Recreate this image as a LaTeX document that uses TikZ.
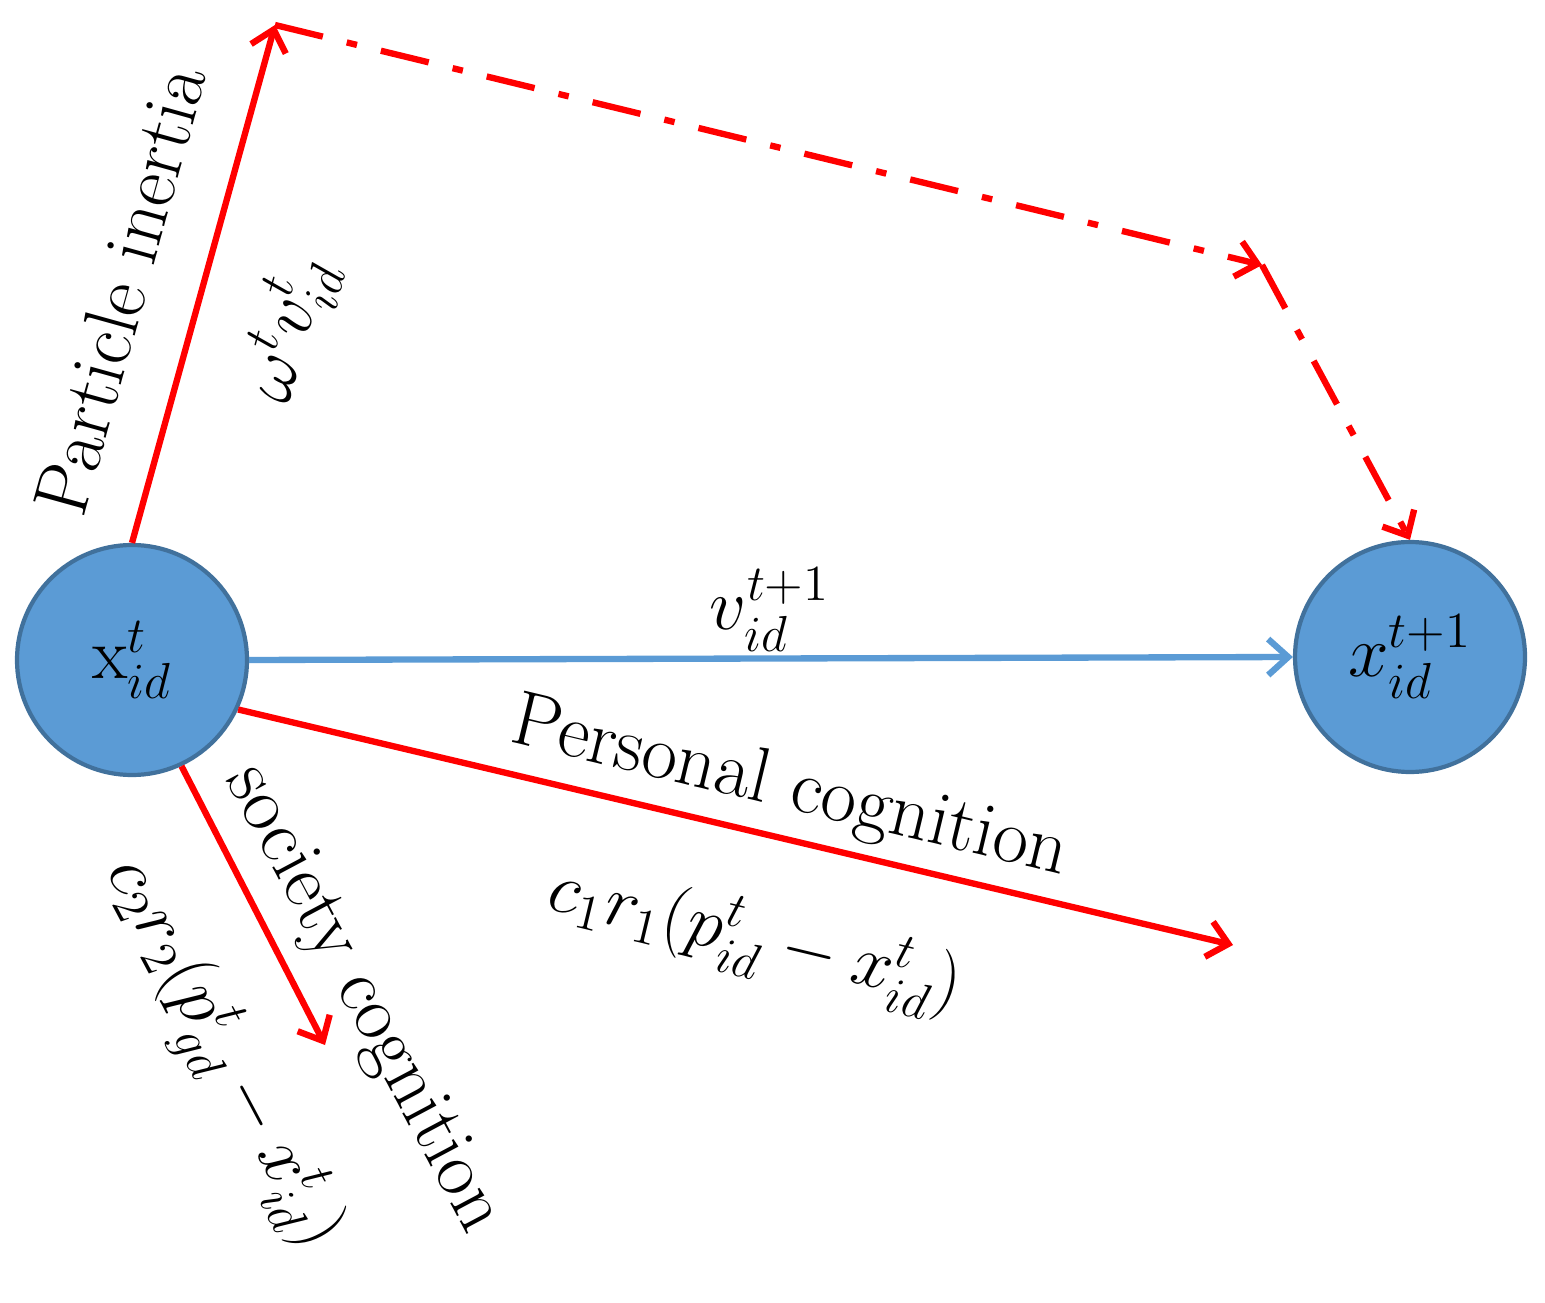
\documentclass[tikz,border=0pt]{standalone}
\usepackage{amsmath}
\usetikzlibrary{arrows.meta}
\definecolor{ballfill}{RGB}{91,155,213}
\definecolor{balledge}{RGB}{65,113,156}
\tikzset{
  ball/.style={draw=balledge, line width=1.2pt, fill=ballfill, circle, minimum size=2.3cm, inner sep=0pt},
  redarrow/.style={draw=red, line width=1.8pt, -{Straight Barb[length=2mm,width=3.6mm]}},
  dashpath/.style={redarrow, dash pattern=on 14pt off 7pt on 3pt off 7pt},
  lbl/.style={font=\fontsize{22}{26}\selectfont}
}
\begin{document}
\begin{tikzpicture}
  \useasboundingbox (0,0) rectangle (15.45,-13.03);
  % Define the nodes
  \node[ball, lbl] (xold) at (1.32,-6.60) {$\mathrm{x}_{id}^{t}$};
  \node[ball, lbl] (xnew) at (14.10,-6.57) {$x_{id}^{t+1}$};
  \coordinate (top) at (2.75,-0.25);
  \coordinate (turn) at (12.62,-2.65);
  \coordinate (pend) at (12.33,-9.45);
  \coordinate (send) at (3.25,-10.45);

  % Draw the edges
  \draw[redarrow] (xold.north) -- (top);
  \draw[dashpath] (top) -- (turn);
  \draw[dashpath] (turn) -- (xnew.north);
  \draw[draw=ballfill, line width=1.8pt, -{Straight Barb[length=2mm,width=3.6mm]}] (xold.east) -- (xnew.west);
  \draw[redarrow] (xold.-25) -- (pend);
  \draw[redarrow] (xold.-65) -- (send);

  % Add labels
  \node[lbl, rotate=74.5] at (1.20,-2.90) {Particle inertia};
  \node[lbl, rotate=74.5] at (2.90,-3.30) {$\omega^{t}v_{id}^{t}$};
  \node[lbl] at (7.70,-6.10) {$v_{id}^{t+1}$};
  \node[lbl, rotate=-13.5] at (7.90,-7.90) {Personal cognition};
  \node[lbl, rotate=-13.5] at (7.55,-9.40) {$c_1r_1(p_{id}^{t}-x_{id}^{t})$};
  \node[lbl, rotate=-62] at (3.62,-10.00) {society cognition};
  \node[lbl, rotate=-62] at (2.20,-10.55) {$c_2r_2(p_{gd}^{t}-x_{id}^{t})$};
\end{tikzpicture}
\end{document}
